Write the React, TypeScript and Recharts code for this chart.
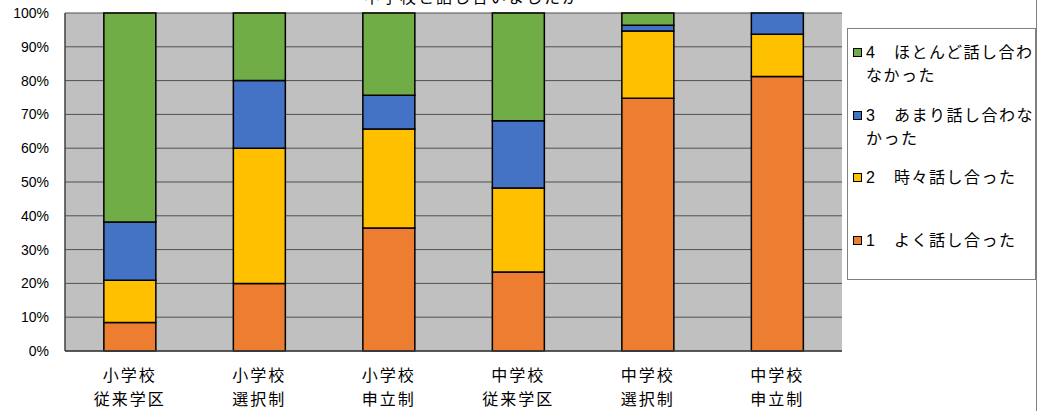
import { Bar, BarChart, CartesianGrid, XAxis, YAxis } from "recharts";

const categories = [
  "小学校\n従来学区",
  "小学校\n選択制",
  "小学校\n申立制",
  "中学校\n従来学区",
  "中学校\n選択制",
  "中学校\n申立制",
];

const yoku = [8.4, 20, 36.4, 23.4, 74.8, 81.2];
const tokidoki = [12.5, 40, 29.3, 24.8, 19.9, 12.5];
const amari = [17.3, 20, 10, 19.9, 1.7, 6.3];
const hotondo = [61.8, 20, 24.3, 31.9, 3.6, 0];

const yTicks = [0, 10, 20, 30, 40, 50, 60, 70, 80, 90, 100];

const series = [
  { key: "s1", name: "1\u3000よく話し合った", color: "#ED7D31", values: yoku },
  { key: "s2", name: "2\u3000時々話し合った", color: "#FFC000", values: tokidoki },
  { key: "s3", name: "3\u3000あまり話し合わな\nかった", color: "#4472C4", values: amari },
  { key: "s4", name: "4\u3000ほとんど話し合わ\nなかった", color: "#70AD47", values: hotondo },
];

const data = categories.map((cat, i) => {
  const row: Record<string, string | number> = { cat };
  series.forEach((s) => {
    row[s.key] = s.values[i];
  });
  return row;
});

const FONT = '"Liberation Sans", Arial, "Noto Sans CJK JP", sans-serif';

const CatTick = (props: any) => {
  const { x, y, payload } = props;
  const lines = String(payload.value).split("\n");
  return (
    <g>
      {lines.map((line, i) => (
        <text
          key={i}
          x={x}
          y={y + 30 + i * 24}
          textAnchor="middle"
          fontSize={16}
          letterSpacing={2}
          fill="#000"
          fontFamily={FONT}
        >
          {line}
        </text>
      ))}
    </g>
  );
};

const App = () => {
  return (
    <div
      style={{
        position: "absolute",
        left: 0,
        top: 0,
        width: 1038,
        height: 411,
        overflow: "hidden",
        background: "#fff",
        fontFamily: FONT,
      }}
    >
      <div
        style={{
          position: "absolute",
          top: -10,
          left: 364,
          fontSize: 16,
          lineHeight: "16px",
          letterSpacing: 2,
          whiteSpace: "nowrap",
        }}
      >
        中学校と話し合いましたか
      </div>
      <div
        style={{
          position: "absolute",
          top: 0,
          left: 1036,
          width: 1,
          height: 411,
          background: "#808080",
        }}
      />
      <BarChart
        width={1038}
        height={411}
        data={data}
        margin={{ top: 13, right: 196, left: 0, bottom: 0 }}
        barCategoryGap="30%"
      >
        <CartesianGrid
          vertical={false}
          stroke="#505050"
          fill="#C0C0C0"
          fillOpacity={1}
        />
        <XAxis
          dataKey="cat"
          height={60}
          tickLine={false}
          tickSize={0}
          tickMargin={0}
          axisLine={{ stroke: "#404040", strokeWidth: 1.5 }}
          tick={<CatTick />}
          interval={0}
        />
        <XAxis
          xAxisId="top"
          orientation="top"
          dataKey="cat"
          height={0}
          tick={false}
          tickLine={false}
          axisLine={{ stroke: "#808080", strokeWidth: 1.5 }}
        />
        <YAxis
          width={65}
          domain={[0, 100]}
          ticks={yTicks}
          tickFormatter={(v) => `${v}%`}
          tickLine={false}
          tickSize={0}
          tickMargin={16}
          axisLine={{ stroke: "#404040", strokeWidth: 1.5 }}
          tick={{ fill: "#000", fontSize: 14, fontFamily: FONT }}
          interval={0}
        />
        <YAxis
          yAxisId="right"
          orientation="right"
          width={0}
          domain={[0, 100]}
          tick={false}
          tickLine={false}
          axisLine={{ stroke: "#808080", strokeWidth: 1.5 }}
        />
        {series.map((s) => (
          <Bar
            key={s.key}
            dataKey={s.key}
            name={s.name}
            stackId="a"
            fill={s.color}
            stroke="#000"
            strokeWidth={1.5}
            isAnimationActive={false}
          />
        ))}
      </BarChart>
      <div
        style={{
          position: "absolute",
          left: 847,
          top: 28,
          width: 189,
          height: 252,
          boxSizing: "border-box",
          border: "1px solid #808080",
          background: "#fff",
          paddingTop: 12,
        }}
      >
        {[...series].reverse().map((s) => (
          <div
            key={s.key}
            style={{ position: "relative", height: 62.5, paddingLeft: 18 }}
          >
            <span
              style={{
                position: "absolute",
                left: 5,
                top: 7,
                width: 7,
                height: 7,
                background: s.color,
                border: "1px solid #000",
              }}
            />
            <div
              style={{
                fontSize: 16,
                lineHeight: "23px",
                letterSpacing: 1.5,
                whiteSpace: "pre",
                color: "#000",
              }}
            >
              {s.name}
            </div>
          </div>
        ))}
      </div>
    </div>
  );
};

export default App;
